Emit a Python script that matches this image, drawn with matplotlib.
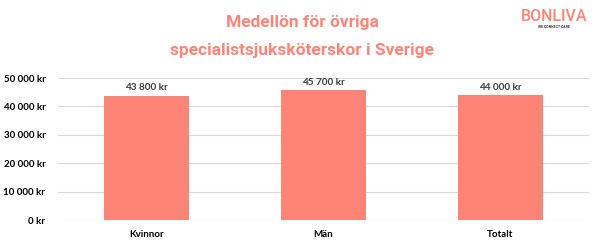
import matplotlib.pyplot as plt
from matplotlib.ticker import FuncFormatter

categories = ['Kvinnor', 'Män', 'Totalt']
salaries = [43800, 45700, 44000]
yticks = [0, 10000, 20000, 30000, 40000, 50000]

salmon = '#FF8478'
dark = '#404040'


def kr(v, pos=None):
    return '{:,.0f} kr'.format(v).replace(',', ' ')


fig = plt.figure(figsize=(6.04, 2.47), dpi=100)
ax = fig.add_axes([0.096, 0.109, 0.879, 0.575])

x = range(len(categories))
bars = ax.bar(x, salaries, width=0.48, color=salmon, zorder=2)
for b, v in zip(bars, salaries):
    ax.text(b.get_x() + b.get_width() / 2, v + 1200, kr(v), ha='center', va='bottom',
            fontsize=7.2, fontweight='bold', color=dark, family='Lato')

ax.set_xlim(-0.5, len(categories) - 0.5)
ax.set_ylim(0, 50000)
ax.set_yticks(yticks)
ax.yaxis.set_major_formatter(FuncFormatter(kr))
ax.set_xticks(list(x))
ax.set_xticklabels(categories)
ax.grid(axis='y', color='#D9D9D9', linewidth=0.8, zorder=0)
ax.tick_params(length=0, labelsize=7, colors='#000000')
ax.tick_params(axis='y', pad=9)
ax.tick_params(axis='x', pad=7)
for lbl in ax.get_xticklabels() + ax.get_yticklabels():
    lbl.set_fontweight('bold')
    lbl.set_family('Lato')
for s in ax.spines.values():
    s.set_visible(False)

fig.text(0.5, 0.907, 'Medellön för övriga', ha='center', va='center',
         fontsize=12.5, fontweight='bold', color=salmon, family='Roboto')
fig.text(0.5, 0.794, 'specialistsjuksköterskor i Sverige', ha='center', va='center',
         fontsize=12.5, fontweight='bold', color=salmon, family='Roboto')

# logo
fig.text(0.917, 0.935, 'BONLIVA', ha='center', va='center', fontsize=11.5,
         color=salmon, family='Roboto', fontweight='medium')
fig.text(0.917, 0.89, 'WE CONNECT CARE', ha='center', va='center', fontsize=2.5,
         color='#333333', family='Roboto', fontweight='bold')

fig.savefig('out.png', dpi=100)
